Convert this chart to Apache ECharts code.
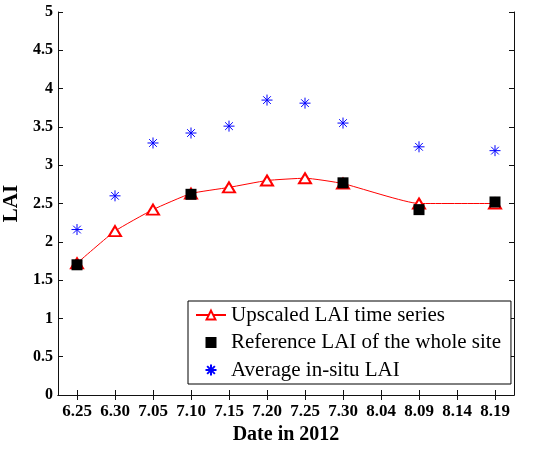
<!DOCTYPE html>
<html>
<head>
<meta charset="utf-8">
<script src="https://cdn.jsdelivr.net/npm/echarts@6/dist/echarts.min.js"></script>
<style>
  html, body { margin: 0; padding: 0; background: #fff; }
  #chart { width: 540px; height: 449px; }
</style>
</head>
<body>
<div id="chart"></div>
<script>
const dates = ["6.25", "6.30", "7.05", "7.10", "7.15", "7.20", "7.25", "7.30", "8.04", "8.09", "8.14", "8.19"];
// null = no observation on that date
const upscaledLai = [1.72, 2.14, 2.42, 2.63, 2.71, 2.80, 2.83, 2.76, null, 2.50, null, 2.50];
const referenceLai = [1.70, null, null, 2.62, null, null, null, 2.77, null, 2.42, null, 2.52];
const insituLai = [2.16, 2.60, 3.29, 3.42, 3.51, 3.85, 3.81, 3.55, null, 3.24, null, 3.19];

const FONT = "Liberation Serif";
const STAR = "path://M0,10L20,10M10,0L10,20M3,3L17,17M17,3L3,17";
const SQUARE = "path://M0,0H10V10H0Z";

const chart = echarts.init(document.getElementById("chart"));

const frameLine = { show: true, lineStyle: { color: "#111", width: 1 } };
const innerTick = { show: true, inside: true, length: 5, lineStyle: { color: "#111" } };

chart.setOption({
  animation: false,
  grid: { left: 58, right: 26, top: 12, bottom: 54, outerBoundsMode: "none", containLabel: false },
  legend: {
    orient: "vertical",
    left: 188,
    top: 301,
    padding: [3, 10, 3, 7],
    itemGap: 5.5,
    itemWidth: 30,
    itemHeight: 11,
    borderColor: "#000",
    borderWidth: 1,
    backgroundColor: "#fff",
    textStyle: { fontFamily: FONT, fontSize: 21, color: "#000", lineHeight: 22 },
    data: [
      { name: "Upscaled LAI time series" },
      { name: "Reference LAI of the whole site", icon: SQUARE, itemStyle: { color: "#000", opacity: 1 } },
      { name: "Average in-situ LAI" },
    ],
  },
  xAxis: [
    {
      type: "category",
      data: dates,
      boundaryGap: true,
      axisLine: frameLine,
      axisTick: { ...innerTick, alignWithLabel: true },
      axisLabel: { fontFamily: FONT, fontSize: 17, fontWeight: "bold", color: "#000", margin: 8, interval: 0 },
      name: "Date in 2012",
      nameLocation: "middle",
      nameGap: 29,
      nameTextStyle: { fontFamily: FONT, fontSize: 20, fontWeight: "bold", color: "#000" },
      splitLine: { show: false },
    },
    {
      type: "category",
      data: dates,
      position: "top",
      boundaryGap: true,
      axisLine: frameLine,
      axisTick: { ...innerTick, alignWithLabel: true },
      axisLabel: { show: false },
      splitLine: { show: false },
    },
  ],
  yAxis: [
    {
      type: "value",
      min: 0,
      max: 5,
      interval: 0.5,
      axisLine: frameLine,
      axisTick: innerTick,
      axisLabel: { fontFamily: FONT, fontSize: 16, fontWeight: "bold", color: "#000", margin: 5 },
      name: "LAI",
      nameLocation: "middle",
      nameGap: 34,
      nameTextStyle: { fontFamily: FONT, fontSize: 21, fontWeight: "bold", color: "#000" },
      splitLine: { show: false },
    },
    {
      type: "value",
      min: 0,
      max: 5,
      interval: 0.5,
      position: "right",
      axisLine: frameLine,
      axisTick: innerTick,
      axisLabel: { show: false },
      splitLine: { show: false },
    },
  ],
  series: [
    {
      name: "Upscaled LAI time series",
      type: "line",
      data: upscaledLai,
      connectNulls: true,
      smooth: 0.15,
      symbol: "emptyTriangle",
      symbolSize: [12, 10],
      lineStyle: { color: "#ff0000", width: 1 },
      itemStyle: { color: "#ff0000", borderColor: "#ff0000", borderWidth: 1 },
      z: 2,
    },
    {
      name: "Reference LAI of the whole site",
      type: "scatter",
      data: referenceLai,
      symbol: SQUARE,
      symbolSize: 11,
      itemStyle: { color: "#000", opacity: 1 },
      z: 3,
    },
    {
      name: "Average in-situ LAI",
      type: "scatter",
      data: insituLai,
      symbol: STAR,
      symbolSize: 11,
      itemStyle: { color: "transparent", borderColor: "#0000ff", borderWidth: 1, opacity: 1 },
      z: 3,
    },
  ],
});
</script>
</body>
</html>
